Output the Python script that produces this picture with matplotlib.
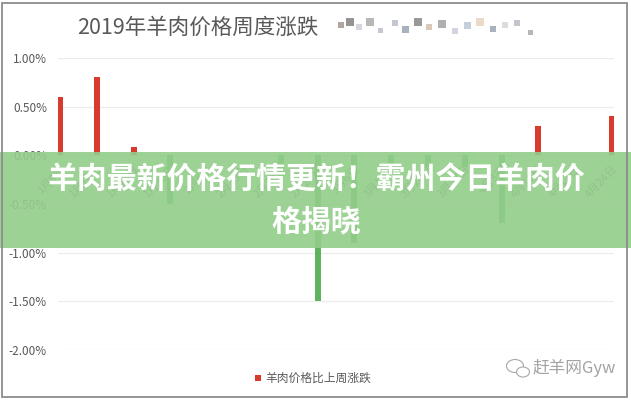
import matplotlib
matplotlib.use("Agg")
import matplotlib.pyplot as plt
from matplotlib.patches import Rectangle, Ellipse
import numpy as np

plt.rcParams['font.family'] = ['Noto Sans CJK SC', 'DejaVu Sans']

# ---- data ----
weeks = ["1月9日", "1月16日", "1月23日", "1月30日", "2月6日", "2月13日", "2月20日", "2月27日",
         "3月6日", "3月13日", "3月20日", "3月27日", "4月3日", "4月10日", "4月17日", "4月24日"]
change_pct = [0.60, 0.80, 0.09, -0.50, 0.0, 0.0, -0.22, -1.50,
              -0.90, -0.12, -0.12, -0.12, -0.70, 0.30, 0.0, 0.40]
yticks = [-2.0, -1.5, -1.0, -0.5, 0.0, 0.5, 1.0]

title = "2019年羊肉价格周度涨跌"
legend_label = "羊肉价格比上周涨跌"
banner_lines = ["羊肉最新价格行情更新！霸州今日羊肉价", "格揭晓"]
watermark = "赶羊网Gyw"

W, H = 631, 400
RED = "#d93a2e"
GREEN = "#5fb35f"
GRAY = "#595959"

def fx(x):
    return x / W

def fy(y):
    return 1 - y / H

fig = plt.figure(figsize=(W / 100, H / 100), dpi=100)
fig.patch.set_facecolor("white")

ax = fig.add_axes([fx(58), fy(350), (614 - 58) / W, (350 - 58) / H])
x = np.arange(len(weeks))
colors = [RED if v >= 0 else GREEN for v in change_pct]
ax.bar(x, change_pct, width=0.16, color=colors, zorder=3)

ax.set_xlim(-0.055, len(weeks) - 1 + 0.055)
ax.set_ylim(-2.0, 1.0)
ax.set_yticks(yticks)
ax.set_yticklabels([f"{v:.2f}%" for v in yticks], color=GRAY, fontsize=8.5)
ax.tick_params(axis='y', length=0, pad=8)
ax.grid(axis='y', color="#ececec", linewidth=0.9, zorder=0)
for s in ["top", "right", "left"]:
    ax.spines[s].set_visible(False)
ax.spines['bottom'].set_position(('data', 0))
ax.spines['bottom'].set_color("#d9d9d9")
ax.spines['bottom'].set_zorder(2)
ax.set_xticks(x)
ax.set_xticklabels(weeks, rotation=45, ha='right', rotation_mode='anchor',
                   color="#6f6f6f", fontsize=8)
ax.tick_params(axis='x', length=0, pad=6)

# title
fig.text(fx(77), fy(28), title, fontsize=15.5, color=GRAY, ha='left', va='center')

# mosaic (blurred source text)
mosaic = [(338, 22, 6, "#7d6b60"), (346, 18, 8, "#4d4d4d"), (356, 24, 6, "#b9b9c4"),
          (366, 18, 8, "#8a8a8a"), (378, 28, 5, "#a0a0b0"), (392, 20, 6, "#9aa3b5"),
          (402, 26, 7, "#6d7f95"), (414, 18, 8, "#555555"), (426, 24, 6, "#c1a68c"),
          (438, 20, 8, "#7c7c7c"), (452, 28, 6, "#b8b8c8"), (464, 22, 7, "#9eb0c6"),
          (476, 18, 8, "#dcc2a2"), (490, 26, 6, "#707d90"), (502, 22, 6, "#c4c4cc"),
          (514, 20, 6, "#9aa0aa"), (528, 30, 5, "#888888")]
for mx, my, ms, mc in mosaic:
    fig.patches.append(Rectangle((fx(mx), fy(my + ms)), ms / W, ms / H,
                                 transform=fig.transFigure, color=mc, alpha=0.6,
                                 linewidth=0))

# legend
fig.patches.append(Rectangle((fx(255), fy(381)), 6 / W, 6 / H, transform=fig.transFigure,
                             color=RED, linewidth=0))
fig.text(fx(265), fy(378), legend_label, fontsize=8.5, color=GRAY, ha='left', va='center')

# watermark
fig.patches.append(Ellipse((fx(515), fy(366)), 17 / W, 13 / H, transform=fig.transFigure,
                           fill=False, edgecolor="#a8a8a8", linewidth=0.8))
fig.patches.append(Ellipse((fx(523), fy(372)), 13 / W, 10 / H, transform=fig.transFigure,
                           facecolor="white", edgecolor="#a8a8a8", linewidth=0.8))
fig.text(fx(533), fy(368), watermark, fontsize=12, color="#a3a3a3", ha='left',
         va='center', fontweight='light')

# banner
fig.patches.append(Rectangle((0, fy(248)), 1, (248 - 152) / H, transform=fig.transFigure,
                             color="#93cd8a", alpha=0.9, linewidth=0, zorder=10))
fig.text(fx(316), fy(180), banner_lines[0], fontsize=21.5, color="white", ha='center',
         va='center', fontweight='heavy', zorder=11)
fig.text(fx(316), fy(221), banner_lines[1], fontsize=21.5, color="white", ha='center',
         va='center', fontweight='heavy', zorder=11)

# outer frame
fig.patches.append(Rectangle((fx(2), fy(397)), (627 - 2) / W, (397 - 3) / H,
                             transform=fig.transFigure, fill=False, edgecolor="#8c8c8c",
                             linewidth=1.3, zorder=12))

fig.savefig("out.png", dpi=100, facecolor="white")
